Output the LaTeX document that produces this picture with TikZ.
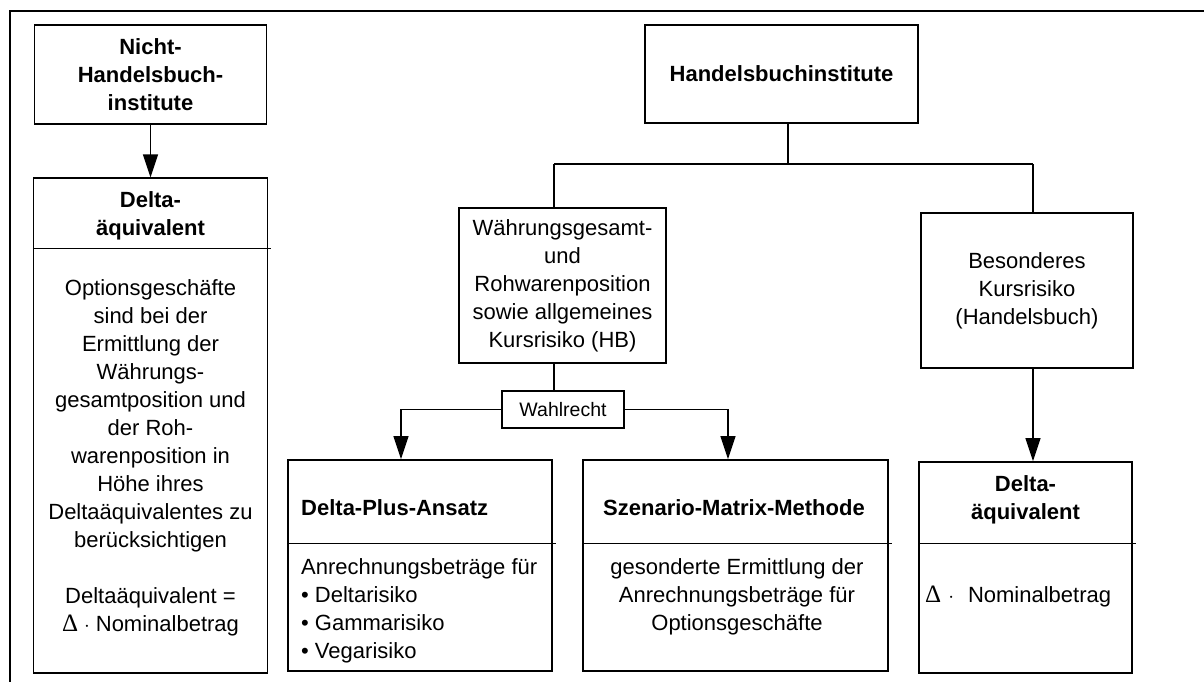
\documentclass[tikz,border=0pt]{standalone}
\usepackage{fontspec}
\setmainfont{Liberation Sans}
\newfontfamily\dgsym{Liberation Serif}
\usetikzlibrary{arrows.meta}
\newcommand\dgfs{\fontsize{22}{28}\selectfont}
\newcommand\dgdelta{{\dgsym\fontsize{25}{28}\selectfont Δ}}
\begin{document}
\begin{tikzpicture}[x=1pt,y=-1pt,
  box/.style={draw, line width=1.1pt, inner sep=0pt, align=center, font=\dgfs},
  thickbox/.style={box, line width=1.8pt},
  txt/.style={inner sep=0pt, align=center, font=\dgfs},
  conn/.style={line width=1.2pt},
  arr/.style={conn, -{Triangle[length=23pt,width=15pt]}},
  divider/.style={line width=1pt}]
\useasboundingbox (0,0) rectangle (1204,681);
% outer frame
\draw[line width=1.8pt] (1215,11) -- (10,11) -- (10,695);

% left column
\node[box, minimum width=232pt, minimum height=99pt, font=\dgfs\bfseries] (nhb) at (150.5,74.5) {Nicht-\\Handelsbuch-\\institute};
\node[box, minimum width=234pt, minimum height=495pt] (ld) at (150.5,425.5) {};
\node[txt, font=\dgfs\bfseries] (ldt) at (150.5,216) {Delta-\\äquivalent};
\coordinate (ldv) at (0,248);
\draw[divider] (ld.west |- ldv) -- ([xshift=3pt]ld.east |- ldv);
\node[txt] (ldb) at (150.5,458) {Optionsgeschäfte\\sind bei der\\Ermittlung der\\Währungs-\\gesamtposition und\\der Roh-\\warenposition in\\Höhe ihres\\Deltaäquivalentes zu\\berücksichtigen\\[28pt]Deltaäquivalent =\\\dgdelta\hspace{6pt}$\cdot$\hspace{6pt}Nominalbetrag};
\draw[arr] (nhb.south) -- (ld.north);

% top right
\node[box, minimum width=273pt, minimum height=98pt, font=\dgfs\bfseries] (hbi) at (781.5,74) {Handelsbuchinstitute};
\coordinate (hbj) at (788,164);
\coordinate (hl) at (554,164);
\coordinate (hr) at (1033,164);
\draw[conn] (hbi.south -| hbj) -- (hbj);
\draw[conn] (hl) -- (hr);

% middle
\node[box, minimum width=207pt, minimum height=155pt] (wg) at (562.5,285.5) {Währungsgesamt-\\und\\Rohwarenposition\\sowie allgemeines\\Kursrisiko (HB)};
\draw[conn] (hl) -- (wg.north -| hl);
\node[thickbox, minimum width=122pt, minimum height=37pt, font=\fontsize{19.5}{24}\selectfont] (wr) at (563,409.5) {Wahlrecht};
\draw[conn] (wg.south -| hl) -- (wr.north -| hl);

% Delta-Plus
\node[thickbox, minimum width=264pt, minimum height=211pt] (dp) at (420,565.5) {};
\node[txt, font=\dgfs\bfseries, anchor=west] (dpt) at (301,508) {Delta-Plus-Ansatz};
\coordinate (bv) at (0,543);
\draw[divider] (dp.west |- bv) -- ([xshift=3pt]dp.east |- bv);
\node[txt, align=left, anchor=west] (dpb) at (301,610.5) {Anrechnungsbeträge für\\• Deltarisiko\\• Gammarisiko\\• Vegarisiko};

% Szenario
\node[thickbox, minimum width=305pt, minimum height=211pt] (sz) at (735.5,565.5) {};
\node[txt, font=\dgfs\bfseries] (szt) at (734,508) {Szenario-Matrix-Methode};
\draw[divider] (sz.west |- bv) -- ([xshift=3pt]sz.east |- bv);
\node[txt] (szb) at (737,597) {gesonderte Ermittlung der\\Anrechnungsbeträge für\\Optionsgeschäfte};

\coordinate (dpx) at (401,0);
\coordinate (szx) at (728,0);
\draw[arr] (wr.west) -| (dp.north -| dpx);
\draw[arr] (wr.east) -| (sz.north -| szx);

% right column
\node[thickbox, minimum width=212pt, minimum height=155pt] (bk) at (1027,290.5) {Besonderes\\Kursrisiko\\(Handelsbuch)};
\draw[conn] (hr) -- (bk.north -| hr);
\node[thickbox, minimum width=213pt, minimum height=211pt] (rd) at (1025.5,567.5) {};
\node[txt, font=\dgfs\bfseries] (rdt) at (1025.5,499.5) {Delta-\\äquivalent};
\draw[divider] (rd.west |- bv) -- ([xshift=3pt]rd.east |- bv);
\node[txt, anchor=west] (rdb) at (925,597) {\dgdelta\hspace{7pt}$\cdot$\hspace{14pt}Nominalbetrag};
\draw[arr] (bk.south -| hr) -- (rd.north -| hr);
\end{tikzpicture}
\end{document}
